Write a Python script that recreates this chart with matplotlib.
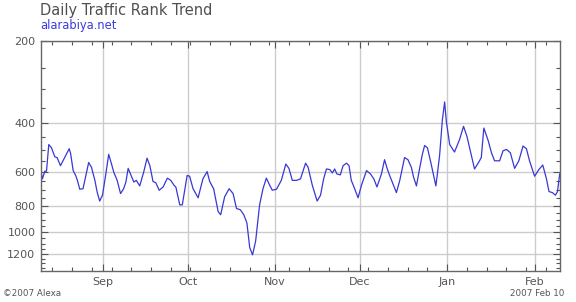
import matplotlib
matplotlib.use("Agg")
import matplotlib.pyplot as plt
import matplotlib.dates as mdates
import matplotlib.ticker as mticker
from datetime import datetime
import numpy as np

# days since 2006-08-10 and the Alexa traffic rank
start = datetime(2006, 8, 10)
days = [0.0, 0.5, 1.35, 1.95, 2.76, 3.7, 4.9, 5.7, 6.9, 8.4, 10.0, 10.5, 11.4, 12.3,
        12.9, 13.75, 14.9, 15.9, 16.9, 17.9, 19.1, 19.9, 20.8, 21.8, 22.9, 24.0,
        25.0, 25.8, 27.0, 28.2, 29.3, 30.1, 30.9, 31.7, 32.9, 33.8, 35.0, 36.4,
        37.6, 38.6, 39.7, 40.7, 41.9, 43.3, 44.8, 46.0, 47.2, 47.8, 49.2, 50.1,
        51.8, 52.7, 53.9, 55.7, 57.4, 58.9, 59.8, 61.2, 62.8, 63.7, 65.1, 66.7,
        68.1, 69.3, 70.7, 71.9, 73.0, 74.0, 75.0, 76.1, 77.5, 78.7, 79.9, 81.1,
        82.0, 83.5, 85.2, 86.8, 87.9, 89.1, 90.6, 92.0, 93.8, 94.7, 96.2, 97.9,
        99.1, 100.2, 101.2, 102.4, 103.3, 104.1, 104.9, 106.1, 107.1, 108.3,
        109.2, 110.0, 111.2, 112.4, 113.6, 115.4, 116.8, 118.0, 119.1, 120.7,
        121.8, 122.7, 123.6, 124.8, 126.0, 127.2, 128.9, 130.1, 131.3, 132.1,
        133.1, 134.2, 135.2, 136.0, 137.0, 138.2, 139.6, 140.0, 141.3, 142.3,
        143.1, 143.7, 144.9, 146.6, 148.4, 149.8, 151.0, 152.2, 153.7, 155.3,
        156.1, 157.0, 158.5, 159.7, 160.8, 162.6, 163.8, 165.0, 166.4, 167.9,
        169.4, 170.9, 172.1, 173.2, 175.0, 176.5, 177.9, 179.2, 180.1, 181.3,
        182.4, 183.1, 183.9]
rank = [600, 638, 598, 598, 478, 491, 530, 533, 571, 533, 495, 515, 595, 620,
        646, 696, 693, 620, 556, 579, 646, 712, 769, 732, 620, 519,
        563, 603, 646, 722, 693, 655, 584, 612, 655, 646, 677, 603,
        536, 571, 652, 659, 702, 683, 634, 646, 674, 683, 794, 794,
        620, 624, 693, 748, 638, 600, 652, 693, 840, 863, 742, 693,
        722, 818, 828, 863, 925, 1138, 1209, 1076, 794, 693, 634, 674,
        702, 696, 646, 563, 584, 646, 646, 638, 559, 579, 674, 769,
        732, 638, 587, 590, 607, 587, 612, 617, 571, 559,
        571, 646, 693, 748, 674, 595, 612, 638, 683, 612,
        543, 584, 620, 667, 716, 646, 533, 543, 579, 629,
        677, 587, 519, 482, 491, 556, 646, 677, 526, 388,
        334, 394, 478, 509, 458, 410, 446, 504, 587, 552,
        533, 416, 461, 512, 548, 548, 504, 498, 512, 584,
        548, 484, 495, 548, 624, 590, 568, 638, 710, 716,
        732, 710, 612]

y_major = [200, 400, 600, 800, 1000, 1200]
y_minor = [v for v in range(250, 1400, 50) if v not in y_major]

x = mdates.date2num(start) + np.array(days)

fig = plt.figure(figsize=(5.76, 3.02), dpi=100)
ax = fig.add_axes([41 / 576, 1 - 271 / 302, 519 / 576, 230 / 302])

ax.plot(x, rank, color="#3838d4", lw=0.9)

ax.set_yscale("log")
ax.set_ylim(1385, 200)
ax.yaxis.set_major_locator(mticker.FixedLocator(y_major))
ax.yaxis.set_major_formatter(mticker.FixedFormatter([str(v) for v in y_major]))
ax.yaxis.set_minor_locator(mticker.FixedLocator(y_minor))
ax.yaxis.set_minor_formatter(mticker.NullFormatter())

ax.set_xlim(mdates.date2num(start), mdates.date2num(datetime(2007, 2, 10)))
ax.xaxis.set_major_locator(mdates.MonthLocator())
ax.xaxis.set_major_formatter(mdates.DateFormatter("%b"))
ax.xaxis.set_minor_locator(mdates.WeekdayLocator(byweekday=mdates.MO))

ax.grid(True, which="major", color="#cccccc", lw=1.0)
ax.set_axisbelow(True)
ax.tick_params(which="both", direction="in", top=True, right=True,
               color="#555555", labelcolor="#555555", labelsize=8)
ax.tick_params(which="major", length=5, width=0.8)
ax.tick_params(which="minor", length=3, width=0.8)
ax.tick_params(axis="y", which="major", pad=4)
ax.tick_params(axis="x", which="major", pad=4)
for s in ax.spines.values():
    s.set_color("#666666")
    s.set_linewidth(1.0)

fig.text(40 / 576, 1 - 10 / 302, "Daily Traffic Rank Trend", color="#505050",
         fontsize=10.5, va="center", ha="left")
fig.text(40 / 576, 1 - 25.5 / 302, "alarabiya.net", color="#3a3ade",
         fontsize=8.3, va="center", ha="left")
fig.text(3 / 576, 1 - 293 / 302, "\u00a92007 Alexa", color="#555555",
         fontsize=6.3, va="center", ha="left")
fig.text(564 / 576, 1 - 294 / 302, "2007 Feb 10", color="#555555",
         fontsize=6.3, va="center", ha="right")

fig.savefig("out.png", dpi=100, facecolor="white")
